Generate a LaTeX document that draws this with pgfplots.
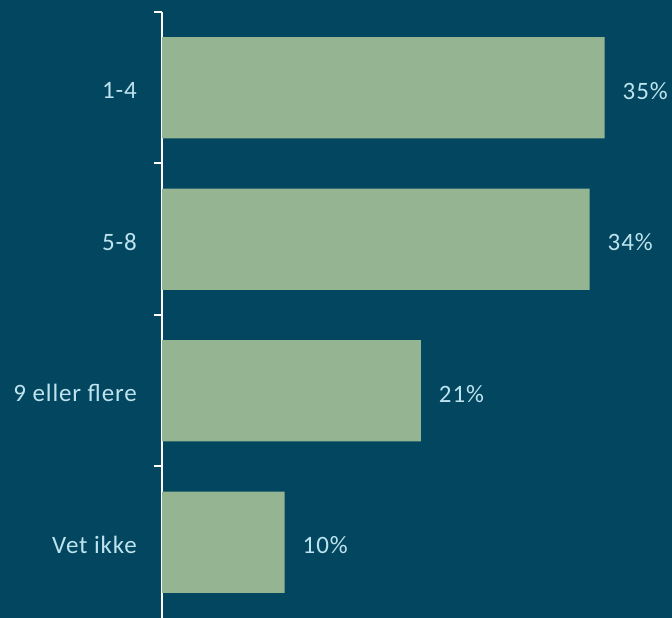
\documentclass[border=0pt]{standalone}
\usepackage{pgfplots}
\pgfplotsset{compat=1.18}
\usepackage{fontspec}
\setmainfont[LetterSpace=3.5]{Carlito}
\definecolor{bg}{HTML}{03465F}
\definecolor{barc}{HTML}{95B592}
\definecolor{txt}{HTML}{BDE3EE}
\begin{document}
\begin{tikzpicture}
\fill[bg] (0,0) rectangle (672pt,618pt);
\begin{axis}[
  at={(162pt,0pt)}, anchor=south west,
  scale only axis, width=510pt, height=606pt,
  xmin=0, xmax=40.8, ymin=-0.5, ymax=3.5,
  separate axis lines,
  hide x axis,
  axis y line*=left,
  y axis line style={white, line width=2pt, -},
  ytick={0,1,2,3},
  yticklabels={Vet ikke, 9 eller flere, 5-8, 1-4},
  major tick length=0pt,
  yticklabel style={txt, font=\fontsize{25}{30}\selectfont, anchor=east, inner sep=0pt, xshift=-25pt, yshift=-2.5pt},
  extra y ticks={0.5,1.5,2.5,3.5},
  extra y tick labels={},
  extra y tick style={major tick length=8pt, tick align=outside, tick style={white, line width=2pt}},
  clip=false,
]
\addplot[xbar, fill=barc, draw=none, bar width=0.667,
  point meta=explicit symbolic,
  nodes near coords,
  nodes near coords style={txt, font=\fontsize{25}{30}\selectfont, anchor=west, inner sep=0pt, xshift=18pt, yshift=-3pt},
] coordinates {
  (35.4,3) [35\%]
  (34.2,2) [34\%]
  (20.7,1) [21\%]
  (9.8,0) [10\%]
};
\end{axis}
\pgfresetboundingbox
\useasboundingbox (0,0) rectangle (672pt,618pt);
\end{tikzpicture}
\end{document}
